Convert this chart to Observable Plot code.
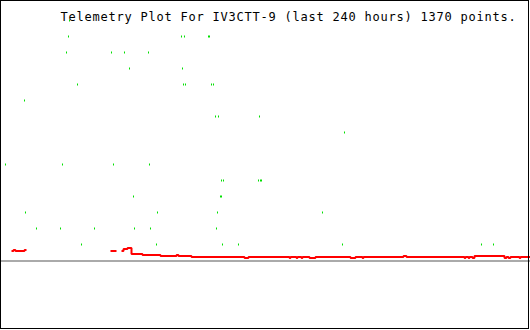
<!DOCTYPE html>
<html>
<head>
<meta charset="utf-8">
<script src="https://cdn.jsdelivr.net/npm/d3@7"></script>
<script src="https://cdn.jsdelivr.net/npm/@observablehq/plot@0.6"></script>
<style>
  html, body { margin: 0; padding: 0; background: white; }
</style>
</head>
<body>
<div id="chart"></div>
<script>
const titleText = "Telemetry Plot For IV3CTT-9 (last 240 hours) 1370 points.";

// green telemetry samples (hours, value)
const greenHours = [
  31.25,
  30.79, 81.96, 83.32, 94.19, 94.64,
  29.89, 50.26, 56.15, 67.02,
  58.42, 82.42,
  34.87, 82.87, 83.77, 95.55, 96.45,
  10.87,
  97.36, 98.72, 117.28,
  155.77,
  2.26, 28.08, 51.17, 67.47,
  100.08, 100.98, 116.83, 117.74, 118.19,
  60.23, 99.62, 100.08,
  11.32, 71.09, 98.26, 145.81,
  16.30, 27.17, 42.57, 60.68, 67.92, 97.81,
  36.68, 70.64, 100.53, 107.77, 154.87, 217.81, 223.25
];
const greenValues = [
  15,
  14, 14, 14, 14, 14,
  13, 13, 13, 13,
  12, 12,
  11, 11, 11, 11, 11,
  10,
  9, 9, 9,
  8,
  6, 6, 6, 6,
  5, 5, 5, 5, 5,
  4, 4, 4,
  3, 3, 3, 3,
  2, 2, 2, 2, 2, 2,
  1, 1, 1, 1, 1, 1, 1
];

// red telemetry trace (hours, value); NaN marks a gap
const redHours = [
  4.98, 5.89, 6.79, 10.87, 11.77, 12.0,
  49.81, 52.53, 53.0,
  54.79, 55.70, 57.51, 59.32, 64.30, 72.45, 79.70, 80.60, 86.49, 110.49, 112.30,
  130.87, 131.32, 134.04, 134.49, 136.30, 136.75, 139.92, 142.64,
  158.49, 160.75, 163.92, 164.38, 182.49, 183.85,
  210.11, 210.57, 211.92, 212.38, 213.74, 214.64, 228.23, 229.13, 230.04, 230.94,
  235.02, 235.47, 240.00
];
const redValues = [
  0.625, 0.6875, 0.625, 0.6875, 0.6875, NaN,
  0.625, 0.625, NaN,
  0.625, 0.75, 0.8125, 0.4375, 0.375, 0.3125, 0.375, 0.3125, 0.25, 0.1875, 0.25,
  0.1875, 0.25, 0.1875, 0.25, 0.1875, 0.25, 0.1875, 0.25,
  0.1875, 0.25, 0.1875, 0.25, 0.3125, 0.25,
  0.1875, 0.25, 0.1875, 0.25, 0.1875, 0.3125, 0.1875, 0.25, 0.1875, 0.25,
  0.1875, 0.25, 0.25
];

const green = greenHours.map((h, i) => ({h, v: greenValues[i]}));
const red = redHours.map((h, i) => ({h, v: redValues[i]}));

const chart = Plot.plot({
  width: 530,
  height: 330,
  margin: 0,
  style: {background: "white", fontFamily: "'DejaVu Sans Mono', monospace", fontSize: "12px", letterSpacing: "0.776px", color: "black"},
  x: {domain: [0, 240], axis: null},
  y: {domain: [-4.34375, 16.28125], axis: null},
  marks: [
    Plot.ruleY([0], {stroke: "#aaaaaa", strokeWidth: 2}),
    Plot.ruleX(green, {x: "h", y1: d => d.v - 1/16, y2: d => d.v + 1/16, stroke: "#00e000", strokeWidth: 1}),
    Plot.line(red, {x: "h", y: "v", stroke: "#ff0000", strokeWidth: 2, curve: "step-after", strokeLinecap: "butt", strokeLinejoin: "miter"}),
    Plot.text([titleText], {frameAnchor: "top-left", textAnchor: "start", lineAnchor: "top", dx: 60, dy: 12, fill: "black", fontSize: 12}),
    Plot.frame({stroke: "black", insetLeft: 0, insetTop: 0, insetRight: 2, insetBottom: 2})
  ]
});
document.getElementById("chart").appendChild(chart);
</script>
</body>
</html>
